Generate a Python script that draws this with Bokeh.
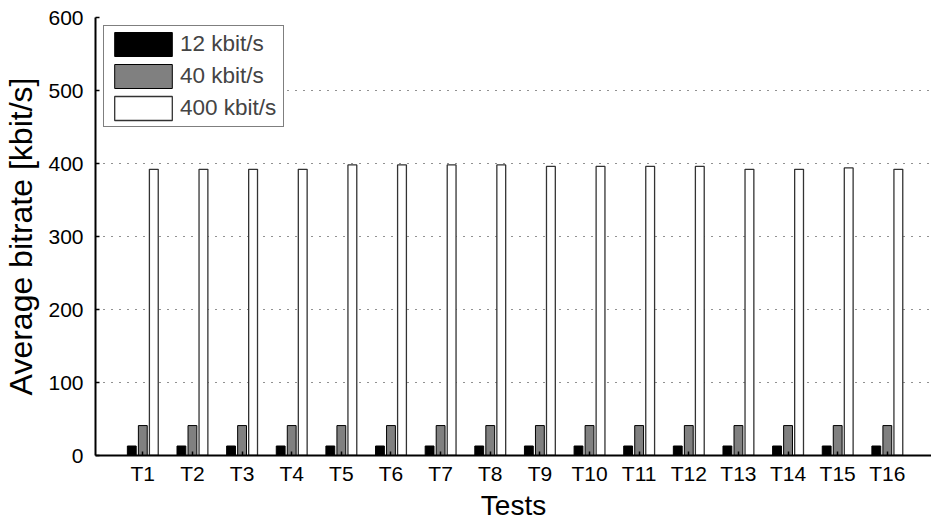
from bokeh.plotting import figure
from bokeh.models import Range1d, FixedTicker, Legend
from bokeh.transform import dodge
from bokeh.embed import file_html
from bokeh.resources import INLINE
from bokeh.models import ColumnDataSource

tests = ["T%d" % i for i in range(1, 17)]
pos = list(range(1, 17))
rate_12 = [13] * 16
rate_40 = [41] * 16
rate_400 = [392, 392, 392, 392, 398, 398, 398, 398, 396, 396, 396, 396, 392, 392, 394, 392]
yticks = [0, 100, 200, 300, 400, 500, 600]

src = ColumnDataSource(dict(x=pos, a=rate_12, b=rate_40, c=rate_400))

FONT = "Liberation Sans"
p = figure(width=931, height=523, output_backend="svg", toolbar_location=None,
           x_range=Range1d(0.047, 16.89), y_range=Range1d(0, 600),
           min_border_left=95, min_border_right=0, min_border_top=17, min_border_bottom=66)
p.outline_line_color = None
p.background_fill_color = "white"
p.border_fill_color = "white"

bw = 0.178
off = 0.222
r1 = p.vbar(x=dodge("x", -off, range=p.x_range), top="a", width=bw, source=src,
            fill_color="black", line_color="black", line_width=1)
r2 = p.vbar(x=dodge("x", 0, range=p.x_range), top="b", width=bw, source=src,
            fill_color="#808080", line_color="black", line_width=1)
r3 = p.vbar(x=dodge("x", off, range=p.x_range), top="c", width=bw, source=src,
            fill_color="white", line_color="#333333", line_width=1.3)

legend = Legend(items=[("12 kbit/s", [r1]), ("40 kbit/s", [r2]), ("400 kbit/s", [r3])],
                location="top_left", margin=8, padding=3, spacing=2,
                glyph_width=72, glyph_height=30, label_standoff=1, label_width=100,
                label_text_font=FONT, label_text_font_size="22.5px",
                border_line_color="black", border_line_width=1.5,
                background_fill_color="white", background_fill_alpha=1)
p.add_layout(legend, "center")

p.xaxis.ticker = FixedTicker(ticks=pos)
p.xaxis.major_label_overrides = {i: t for i, t in zip(pos, tests)}
p.yaxis.ticker = FixedTicker(ticks=yticks)
p.xgrid.grid_line_color = None
p.ygrid.grid_line_color = "#222222"
p.ygrid.grid_line_dash = "1 7"
p.ygrid.grid_line_width = 1

for ax in (p.xaxis[0], p.yaxis[0]):
    ax.axis_line_color = "black"
    ax.axis_line_width = 2
    ax.major_tick_line_color = "black"
    ax.major_tick_line_width = 1.5
    ax.major_tick_in = 4
    ax.major_tick_out = 0
    ax.minor_tick_line_color = None
    ax.major_label_text_font = FONT
    ax.major_label_text_font_size = "21px"
    ax.major_label_text_color = "black"
    ax.axis_label_text_font = FONT
    ax.axis_label_text_font_style = "normal"
    ax.axis_label_text_color = "black"

p.xaxis.axis_label = "Tests"
p.xaxis.axis_label_text_font_size = "28px"
p.xaxis.major_label_standoff = 6
p.xaxis.axis_label_standoff = 2
p.yaxis.axis_label = "Average bitrate [kbit/s]"
p.yaxis.axis_label_text_font_size = "32px"
p.yaxis.major_label_standoff = 12
p.yaxis.axis_label_standoff = 6

open("out.html", "w").write(file_html(p, INLINE))
